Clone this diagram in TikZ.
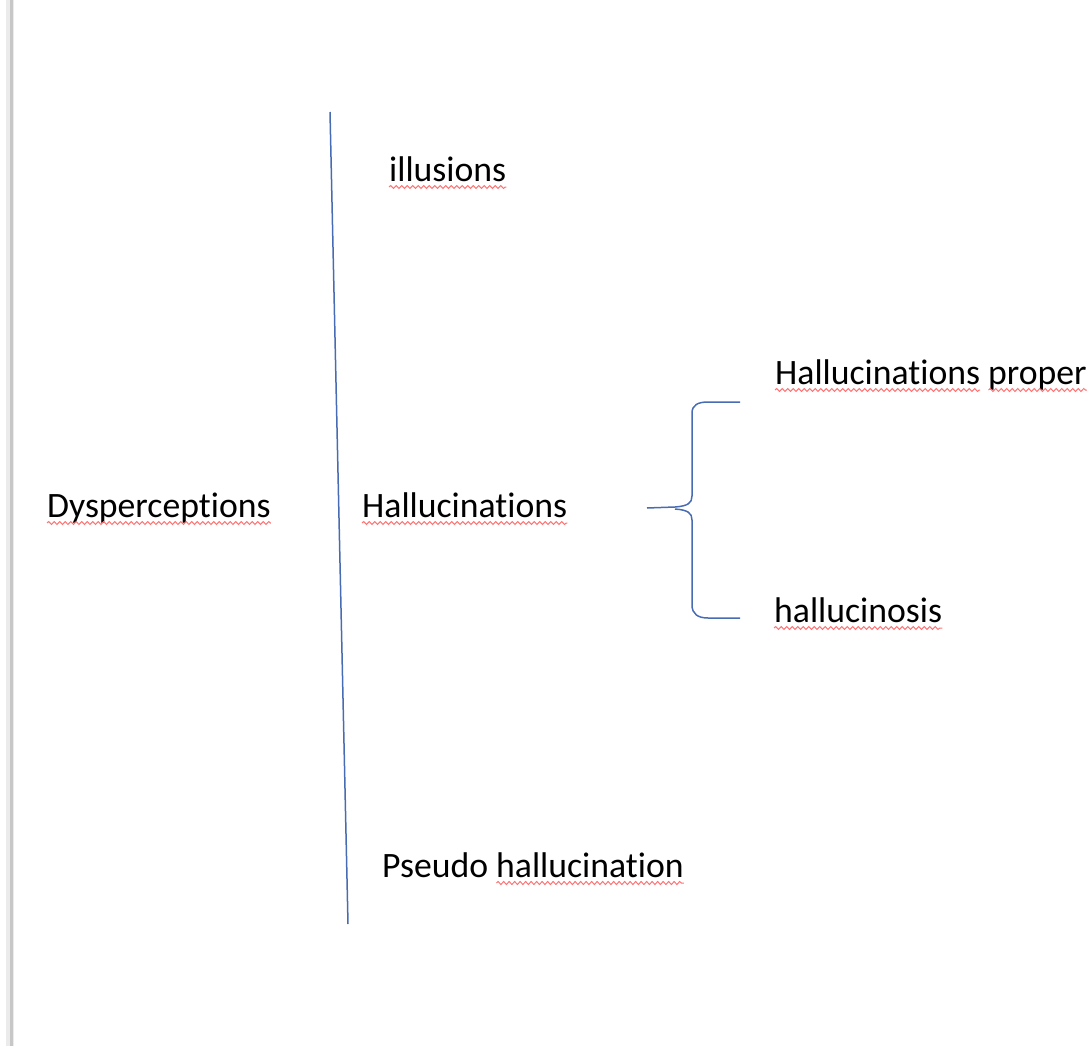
\documentclass[tikz,border=0pt]{standalone}
\usepackage{fontspec}
\setmainfont{Carlito}[Ligatures={NoCommon}]
\usetikzlibrary{decorations.pathmorphing}
\definecolor{wordblue}{RGB}{72,108,180}

\begin{document}
\fontsize{35.7}{43}\selectfont
\begin{tikzpicture}[
  x=1pt, y=1pt,
  lbl/.style={anchor=base west, inner sep=0pt, text=black},
  squig/.style={draw=red!55, line width=1pt, decorate,
    decoration={snake, amplitude=1.5pt, segment length=5.5pt}},
  sep/.style={draw=wordblue, line width=1.5pt},
  brace/.style={draw=wordblue, line width=1.5pt, line join=round}
]
\useasboundingbox (0,0) rectangle (1092,-1046);

% page edge on the left
\fill[black!8] (6,0) rectangle (14,-1046);
\draw[black!22, line width=2.5pt] (11.5,0) -- (11.5,-1046);

% main separator
\coordinate (septop) at (330,-112);
\coordinate (sepbot) at (348,-924);
\draw[sep] (septop) -- (sepbot);

\node[lbl] (dysp) at (47,-517) {Dysperceptions};
\node[lbl] (illu) at (389,-181) {illusions};
\node[lbl] (hall) at (362,-517) {Hallucinations};
\node[lbl] (pseudo) at (382,-877) {Pseudo hallucination};
\node[lbl] (proper) at (775,-384) {Hallucinations proper};
\node[lbl] (hosis) at (774,-622) {hallucinosis};

% brace from Hallucinations
\coordinate (tip) at (647,-508);
\coordinate (btop) at (740,-402);
\coordinate (bbot) at (740,-618);
\draw[brace] (tip) -- (675,-507) .. controls (688,-506) and (692,-503) .. (692,-496)
  -- (692,-413) .. controls (692,-405) and (698,-402) .. (708,-402) -- (btop);
\draw[brace] (675,-509) .. controls (688,-510) and (692,-513) .. (692,-520)
  -- (692,-605) .. controls (692,-614) and (698,-618) .. (708,-618) -- (bbot);

% spell-check underlines
\pgfmathsetmacro{\hwid}{width("hallucination")}
\pgfmathsetmacro{\Hwid}{width("Hallucinations")}
\draw[squig] ([yshift=-6pt]dysp.base west) -- ([yshift=-6pt]dysp.base east);
\draw[squig] ([yshift=-6pt]illu.base west) -- ([yshift=-6pt]illu.base east);
\draw[squig] ([yshift=-6pt]hall.base west) -- ([yshift=-6pt]hall.base east);
\draw[squig] ([yshift=-6pt]hosis.base west) -- ([yshift=-6pt]hosis.base east);
\draw[squig] ([xshift=-\hwid pt, yshift=-6pt]pseudo.base east) -- ([yshift=-6pt]pseudo.base east);
\draw[squig] ([yshift=-6pt]proper.base west) -- ([xshift=\Hwid pt, yshift=-6pt]proper.base west);
\draw[squig] ([xshift=-width("proper"), yshift=-6pt]proper.base east) -- ([yshift=-6pt]proper.base east);

\end{tikzpicture}
\end{document}
